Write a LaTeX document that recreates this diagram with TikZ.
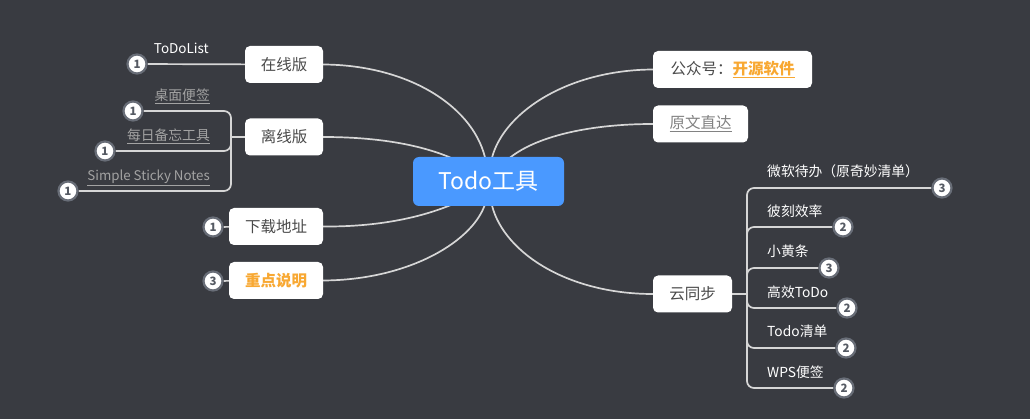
\documentclass[tikz,border=0pt]{standalone}
\usepackage{fontspec}
\setmainfont{Noto Sans CJK SC}
\definecolor{bgc}{HTML}{393B41}
\definecolor{linec}{HTML}{D6D6D6}
\definecolor{boxtext}{HTML}{4A4A4A}
\definecolor{bluec}{HTML}{4A99FF}
\definecolor{orangec}{HTML}{F8A832}
\definecolor{graylbl}{HTML}{A3A3A3}
\definecolor{badgeb}{HTML}{686D77}
\definecolor{badget}{HTML}{555A63}
\pgfdeclarelayer{back}
\pgfdeclarelayer{wires}
\pgfsetlayers{back,wires,main}
\tikzset{
  box/.style={fill=white, rounded corners=5pt, inner sep=0pt, minimum height=37pt,
    text=boxtext, font=\fontsize{15.5}{18}\selectfont},
  badge/.style={circle, draw=badgeb, line width=2.2pt, fill=white, minimum size=19pt, inner sep=0pt,
    text=badget, font=\fontsize{11.5}{13}\selectfont\bfseries},
  conn/.style={draw=linec, line width=1.7pt},
  lbl/.style={inner sep=0pt, text=white, font=\fontsize{13.8}{16}\selectfont},
  glbl/.style={inner sep=0pt, text=graylbl, font=\fontsize{13.8}{16}\selectfont},
}
\begin{document}
\begin{tikzpicture}[x=1pt,y=-1pt]
\begin{pgfonlayer}{back}
\fill[bgc] (0,0) rectangle (1030,419);
\end{pgfonlayer}
\useasboundingbox (0,0) rectangle (1030,419);

% central node
\node[fill=bluec, rounded corners=6pt, minimum width=151pt, minimum height=49pt, inner sep=0pt,
  text=white, font=\fontsize{23}{26}\selectfont] (todo) at (488.5,181.5) {Todo工具};

% left boxes
\node[box, minimum width=78pt] (zx) at (284,64.5) {在线版};
\node[box, minimum width=78pt] (lx) at (284,137) {离线版};
\node[box, minimum width=94pt] (xz) at (276,226.5) {下载地址};
\node[box, minimum width=94pt, text=orangec, font=\fontsize{15.5}{18}\selectfont\bfseries] (zd) at (276,280.5) {重点说明};

% right boxes
\node[box, minimum width=159pt] (gz) at (732.5,69.5) {公众号：\textcolor{orangec}{\bfseries\underline{开源软件}}};
\node[box, minimum width=95pt, text=graylbl!80!black] (yw) at (700.5,124) {\underline{原文直达}};
\node[box, minimum width=79pt] (yt) at (692.5,294) {云同步};

% left badges
\node[badge] (bzx) at (137,64) {1};
\node[badge] (bl1) at (133,111) {1};
\node[badge] (bl2) at (105,151) {1};
\node[badge] (bl3) at (68,191) {1};
\node[badge] (bxz) at (213,227) {1};
\node[badge] (bzd) at (213,281) {3};

% left labels
\node[lbl, anchor=base east, font=\fontsize{13.5}{16}\selectfont] (tdl) at (209,54) {ToDoList};
\node[glbl, anchor=base east] (l1) at (210,101) {\underline{桌面便签}};
\node[glbl, anchor=base east] (l2) at (210,141) {\underline{每日备忘工具}};
\node[glbl, anchor=base east, font=\fontsize{13.3}{16}\selectfont] (l3) at (210,181) {\underline{Simple Sticky Notes}};

% right badges
\node[badge] (r1) at (942,188) {3};
\node[badge] (r2) at (843,227) {2};
\node[badge] (r3) at (829,268) {3};
\node[badge] (r4) at (847,308) {2};
\node[badge] (r5) at (846,348) {2};
\node[badge] (r6) at (844,388) {2};

% right labels
\node[lbl, anchor=base west] (t1) at (767,177) {微软待办（原奇妙清单）};
\node[lbl, anchor=base west] (t2) at (767,217) {彼刻效率};
\node[lbl, anchor=base west] (t3) at (767,257) {小黄条};
\node[lbl, anchor=base west] (t4) at (767,298) {高效ToDo};
\node[lbl, anchor=base west] (t5) at (767,337) {Todo清单};
\node[lbl, anchor=base west] (t6) at (767,377) {WPS便签};

% junctions
\coordinate (jl) at (231,137);
\coordinate (jr) at (747,294);
\coordinate (a1) at (486,162);
\coordinate (a2) at (460,162);
\coordinate (a3) at (460,201);
\coordinate (a4) at (486,201);
\coordinate (a5) at (491,162);
\coordinate (a6) at (505,162);
\coordinate (a7) at (491,201);

\begin{pgfonlayer}{wires}
% main curves
\draw[conn] (zx.east) .. controls (410,65) and (476,108) .. (a1);
\draw[conn] (lx.east) .. controls (385,137) and (430,147) .. (a2);
\draw[conn] (xz.east) .. controls (385,227) and (430,215) .. (a3);
\draw[conn] (zd.east) .. controls (410,280) and (476,240) .. (a4);
\draw[conn] (gz.west) .. controls (565,70) and (500,115) .. (a5);
\draw[conn] (yw.west) .. controls (585,124) and (530,138) .. (a6);
\draw[conn] (yt.west) .. controls (565,294) and (500,250) .. (a7);
% left leaves
\draw[conn] (bzx) -- (zx);
\draw[conn] (bxz) -- (xz);
\draw[conn] (bzd) -- (zd);
\draw[conn] (lx) -- (jl);
\draw[conn, rounded corners=7pt] (jl) -- (231,111) -- (bl1);
\draw[conn, rounded corners=7pt] (jl) -- (231,151) -- (bl2);
\draw[conn, rounded corners=7pt] (jl) -- (231,191) -- (bl3);
% right leaves
\draw[conn] (yt) -- (jr);
\draw[conn, rounded corners=7pt] (jr) -- (747,188) -- (r1);
\draw[conn, rounded corners=7pt] (jr) -- (747,227) -- (r2);
\draw[conn, rounded corners=7pt] (jr) -- (747,268) -- (r3);
\draw[conn, rounded corners=7pt] (jr) -- (747,308) -- (r4);
\draw[conn, rounded corners=7pt] (jr) -- (747,348) -- (r5);
\draw[conn, rounded corners=7pt] (jr) -- (747,388) -- (r6);
\end{pgfonlayer}
\end{tikzpicture}
\end{document}
